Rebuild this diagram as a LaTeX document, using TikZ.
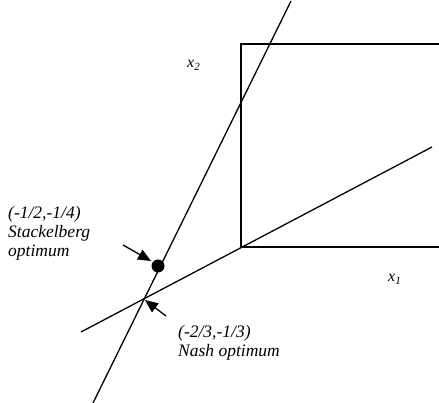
\documentclass[tikz,border=0pt]{standalone}
\usepackage{fontspec}
\setmainfont{Liberation Serif}
\usetikzlibrary{arrows.meta}
\tikzset{
  ln/.style={line width=1.3pt, black},
  lbl/.style={inner sep=0pt, font=\fontsize{17.5}{19}\selectfont\itshape, align=left},
  axlbl/.style={inner sep=0pt, font=\fontsize{16}{18}\selectfont\itshape},
  pointer/.style={line width=1.3pt, -{Triangle[length=13pt,width=11pt]}},
}
\begin{document}
\begin{tikzpicture}[x=1pt,y=-1pt]
\useasboundingbox (0,0) rectangle (439,403);
% box (quadrant)
\coordinate (tr) at (440,44);
\coordinate (tl) at (241,44);
\coordinate (o) at (241,247);
\coordinate (br) at (440,247);
\draw[ln] (tr) -- (tl) -- (o) -- (br);
% lines
\coordinate (s1) at (291,1);
\coordinate (s2) at (93,403);
\draw[ln] (s1) -- (s2);
\coordinate (h1) at (81,332);
\coordinate (h2) at (432,147);
\draw[ln] (h1) -- (h2);
% Stackelberg point
\fill (158,266) circle (6.5);
\node[circle, inner sep=0pt, minimum size=13pt] (dot) at (158,266) {};
% labels
\node[axlbl, anchor=base west] (x2) at (187,68) {x\raisebox{-0.35ex}{\fontsize{11}{12}\selectfont 2}};
\node[axlbl, anchor=base west] (x1) at (388,282) {x\raisebox{-0.35ex}{\fontsize{11}{12}\selectfont 1}};
\node[lbl, anchor=north west] (stl) at (8,206) {(-1/2,-1/4)\\Stackelberg\\optimum};
\node[lbl, anchor=north west] (nsl) at (178,325) {(-2/3,-1/3)\\Nash optimum};
% pointers
\coordinate (sa) at (123,245);
\coordinate (st) at (151,261);
\draw[pointer] (sa) -- (st);
\coordinate (na) at (166,316);
\coordinate (nt) at (145,300);
\draw[pointer] (na) -- (nt);
\end{tikzpicture}
\end{document}
